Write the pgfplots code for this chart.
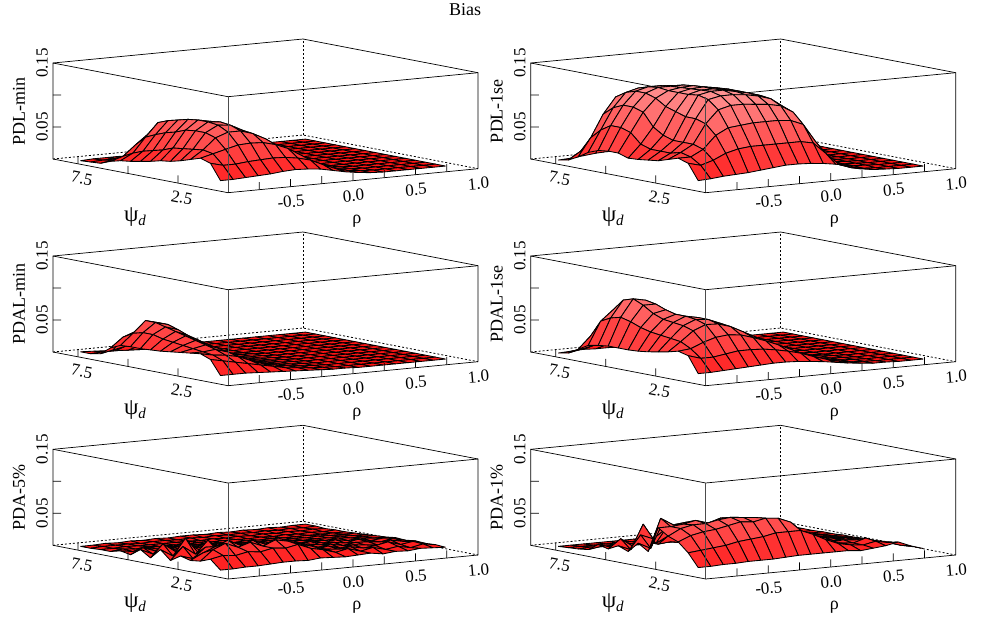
\documentclass[border=0pt]{standalone}
\usepackage{fontspec}
\setmainfont{Liberation Serif}
\usepackage{pgfplots}
\pgfplotsset{compat=1.18}
\newcommand\cc{}
\newcommand\pp{}
\newcommand\R[2]{%
 \foreach \zz [count=\i from 0] in {#2} {\expandafter\xdef\csname b\i\endcsname{\zz}}%
 \ifx\pp\empty\else
 \foreach \i [count=\j from 1] in {0,...,17} {\pgfmathsetmacro\ra{-0.9+0.1*\i}\pgfmathsetmacro\rb{-0.9+0.1*\j}%
   \xdef\cc{(\ra,\pp,\csname a\i\endcsname) (\rb,\pp,\csname a\j\endcsname) (\rb,#1,\csname b\j\endcsname) (\ra,#1,\csname b\i\endcsname) \cc}}%
 \fi
 \foreach \i in {0,...,18} {\expandafter\xdef\csname a\i\endcsname{\csname b\i\endcsname}}%
 \gdef\pp{#1}}
\newcommand\DA{%
\R{1}{.011,.011,.012,.013,.014,.016,.017,.016,.014,.01,.006,.003,.001,0,0,0,0,0,0}
\R{1.5}{.035,.03,.03,.032,.033,.034,.033,.03,.025,.016,.008,.003,.001,0,0,0,0,0,0}
\R{2}{.04,.045,.05,.055,.056,.055,.05,.042,.03,.018,.009,.003,.001,0,0,0,0,0,0}
\R{2.5}{.035,.048,.065,.072,.072,.066,.056,.042,.028,.016,.007,.002,.001,0,0,0,0,0,0}
\R{3}{.03,.046,.07,.08,.078,.068,.052,.036,.022,.012,.005,.002,0,0,0,0,0,0,0}
\R{3.5}{.026,.044,.07,.082,.08,.066,.048,.03,.017,.008,.004,.001,0,0,0,0,0,0,0}
\R{4}{.024,.042,.068,.082,.078,.062,.042,.025,.013,.006,.002,.001,0,0,0,0,0,0,0}
\R{4.5}{.02,.036,.062,.08,.074,.056,.036,.02,.01,.004,.001,0,0,0,0,0,0,0,0}
\R{5}{.017,.032,.058,.076,.07,.05,.03,.016,.008,.003,.001,0,0,0,0,0,0,0,0}
\R{5.5}{.014,.028,.052,.072,.066,.046,.026,.013,.006,.002,.001,0,0,0,0,0,0,0,0}
\R{6}{.012,.022,.045,.066,.06,.04,.022,.01,.005,.002,.001,0,0,0,0,0,0,0,0}
\R{6.5}{.008,.014,.03,.045,.04,.026,.014,.007,.003,.001,0,0,0,0,0,0,0,0,0}
\R{7}{.002,.005,.01,.014,.012,.008,.005,.002,.001,0,0,0,0,0,0,0,0,0,0}
\R{7.5}{.001,.002,.003,.003,.002,.001,0,0,0,0,0,0,0,0,0,0,0,0,0}
\R{8}{0,.001,.001,.001,0,0,0,0,0,0,0,0,0,0,0,0,0,0,0}}
\newcommand\DB{%
\R{1}{.011,.012,.014,.015,.016,.018,.02,.022,.022,.021,.019,.016,.012,.005,.002,.001,0,0,0}
\R{1.5}{.035,.03,.036,.045,.05,.052,.052,.052,.052,.052,.048,.03,.012,.004,.001,0,0,0,0}
\R{2}{.04,.04,.05,.07,.08,.082,.084,.084,.084,.082,.074,.045,.017,.005,.002,.001,0,0,0}
\R{2.5}{.035,.044,.055,.085,.105,.11,.11,.108,.106,.102,.09,.052,.02,.006,.002,.001,0,0,0}
\R{3}{.03,.04,.055,.09,.118,.122,.122,.12,.116,.11,.096,.055,.02,.006,.002,.001,0,0,0}
\R{3.5}{.028,.04,.055,.09,.122,.126,.126,.122,.118,.112,.098,.055,.02,.006,.002,.001,0,0,0}
\R{4}{.026,.04,.06,.095,.12,.125,.125,.122,.118,.112,.098,.055,.02,.006,.002,.001,0,0,0}
\R{4.5}{.025,.045,.07,.1,.12,.124,.125,.122,.118,.11,.096,.055,.02,.006,.002,.001,0,0,0}
\R{5}{.03,.06,.09,.11,.12,.123,.124,.12,.115,.106,.09,.052,.019,.006,.002,.001,0,0,0}
\R{5.5}{.03,.065,.095,.115,.122,.122,.122,.118,.11,.1,.082,.048,.017,.005,.002,.001,0,0,0}
\R{6}{.028,.065,.095,.115,.12,.12,.118,.112,.104,.09,.07,.04,.014,.004,.001,0,0,0,0}
\R{6.5}{.022,.055,.088,.11,.115,.112,.108,.1,.09,.075,.055,.03,.01,.003,.001,0,0,0,0}
\R{7}{.012,.04,.075,.1,.105,.1,.095,.085,.07,.055,.036,.018,.006,.002,0,0,0,0,0}
\R{7.5}{.004,.016,.035,.05,.055,.05,.046,.04,.03,.022,.012,.006,.002,.001,0,0,0,0,0}
\R{8}{.001,.002,.004,.006,.007,.006,.005,.004,.003,.002,.001,0,0,0,0,0,0,0,0}}
\newcommand\DC{%
\R{1}{.008,.008,.008,.007,.006,.005,.004,.003,.002,.001,.001,0,0,0,0,0,0,0,0}
\R{1.5}{.03,.026,.022,.018,.014,.01,.006,.004,.002,.001,0,0,0,0,0,0,0,0,0}
\R{2}{.036,.032,.03,.026,.018,.011,.007,.004,.002,.001,0,0,0,0,0,0,0,0,0}
\R{2.5}{.034,.034,.036,.03,.02,.012,.007,.004,.002,.001,0,0,0,0,0,0,0,0,0}
\R{3}{.032,.036,.04,.033,.022,.012,.007,.004,.002,.001,0,0,0,0,0,0,0,0,0}
\R{3.5}{.03,.038,.044,.036,.024,.013,.007,.004,.002,.001,0,0,0,0,0,0,0,0,0}
\R{4}{.028,.04,.048,.04,.026,.013,.007,.004,.002,.001,0,0,0,0,0,0,0,0,0}
\R{4.5}{.027,.042,.052,.044,.028,.014,.007,.004,.002,.001,0,0,0,0,0,0,0,0,0}
\R{5}{.026,.046,.056,.05,.03,.014,.007,.003,.002,.001,0,0,0,0,0,0,0,0,0}
\R{5.5}{.026,.046,.06,.055,.03,.013,.006,.003,.001,0,0,0,0,0,0,0,0,0,0}
\R{6}{.025,.042,.06,.055,.028,.012,.005,.003,.001,0,0,0,0,0,0,0,0,0,0}
\R{6.5}{.018,.033,.04,.032,.016,.007,.003,.002,.001,0,0,0,0,0,0,0,0,0,0}
\R{7}{.006,.01,.014,.012,.006,.003,.002,.001,0,0,0,0,0,0,0,0,0,0,0}
\R{7.5}{.003,.004,.004,.003,.002,.001,0,0,0,0,0,0,0,0,0,0,0,0,0}
\R{8}{.003,.002,.001,.001,0,0,0,0,0,0,0,0,0,0,0,0,0,0,0}}
\newcommand\DD{%
\R{1}{.011,.011,.012,.013,.014,.015,.016,.016,.015,.013,.011,.008,.005,.003,.001,.001,0,0,0}
\R{1.5}{.036,.03,.03,.033,.036,.036,.035,.032,.028,.023,.016,.01,.005,.002,.001,0,0,0,0}
\R{2}{.04,.042,.05,.056,.058,.056,.05,.043,.035,.026,.017,.01,.005,.002,.001,0,0,0,0}
\R{2.5}{.036,.05,.065,.073,.072,.066,.056,.046,.036,.026,.016,.009,.004,.002,.001,0,0,0,0}
\R{3}{.033,.052,.07,.078,.076,.068,.056,.044,.034,.024,.015,.008,.004,.002,.001,0,0,0,0}
\R{3.5}{.03,.054,.072,.08,.076,.066,.052,.04,.03,.021,.013,.007,.003,.001,0,0,0,0,0}
\R{4}{.028,.056,.074,.08,.074,.062,.048,.036,.026,.018,.011,.006,.003,.001,0,0,0,0,0}
\R{4.5}{.027,.06,.08,.084,.072,.058,.043,.032,.022,.015,.009,.005,.002,.001,0,0,0,0,0}
\R{5}{.027,.066,.09,.09,.07,.053,.038,.027,.018,.012,.007,.004,.002,.001,0,0,0,0,0}
\R{5.5}{.027,.07,.097,.093,.068,.048,.033,.022,.015,.01,.006,.003,.001,0,0,0,0,0,0}
\R{6}{.025,.066,.092,.086,.06,.04,.027,.018,.012,.008,.004,.002,.001,0,0,0,0,0,0}
\R{6.5}{.022,.058,.074,.066,.045,.03,.02,.013,.008,.005,.003,.001,0,0,0,0,0,0,0}
\R{7}{.013,.032,.045,.038,.026,.016,.011,.007,.004,.003,.001,0,0,0,0,0,0,0,0}
\R{7.5}{.004,.008,.012,.011,.008,.005,.003,.002,.001,0,0,0,0,0,0,0,0,0,0}
\R{8}{.001,.002,.003,.002,.002,.001,0,0,0,0,0,0,0,0,0,0,0,0,0}}
\newcommand\DE{%
\R{1}{.006,.006,.007,.007,.008,.009,.009,.008,.01,.009,.008,.009,.01,.007,.009,.008,.01,.009,.008}
\R{1.5}{.02,.024,.022,.026,.024,.028,.026,.03,.022,.018,.012,.016,.01,.014,.009,.012,.008,.012,.009}
\R{2}{.014,.03,.038,.03,.036,.028,.036,.032,.026,.02,.014,.012,.014,.01,.012,.016,.01,.013,.008}
\R{2.5}{.012,.022,.03,.038,.028,.034,.026,.034,.018,.016,.01,.014,.009,.012,.01,.008,.014,.01,.009}
\R{3}{.016,.01,.026,.018,.03,.02,.028,.016,.02,.012,.014,.009,.012,.008,.011,.01,.008,.012,.007}
\R{3.5}{.006,.026,.012,.032,.014,.024,.012,.02,.01,.014,.008,.011,.008,.01,.007,.011,.007,.009,.008}
\R{4}{.02,.008,.034,.01,.024,.01,.018,.009,.014,.007,.01,.007,.01,.006,.009,.006,.008,.006,.006}
\R{4.5}{.004,.024,.01,.02,.008,.016,.007,.012,.006,.009,.006,.008,.005,.007,.005,.007,.005,.006,.005}
\R{5}{.014,.005,.016,.006,.012,.006,.01,.005,.008,.005,.007,.004,.006,.004,.005,.004,.005,.004,.004}
\R{5.5}{.003,.012,.005,.01,.004,.008,.004,.007,.004,.005,.003,.005,.003,.004,.003,.004,.003,.003,.003}
\R{6}{.006,.003,.008,.003,.006,.003,.005,.003,.004,.002,.003,.002,.003,.002,.002,.002,.002,.002,.002}
\R{6.5}{.002,.004,.002,.004,.002,.003,.002,.003,.002,.002,.002,.001,.002,.001,.002,.001,.002,.001,.002}
\R{7}{.002,.002,.003,.002,.002,.002,.002,.002,.001,.002,.001,.002,.001,.002,.001,.002,.001,.002,.001}
\R{7.5}{.001,.002,.002,.002,.001,.002,.002,.001,.002,.001,.002,.001,.002,.001,.002,.001,.002,.001,.002}
\R{8}{.001,.001,.002,.001,.002,.001,.002,.001,.002,.002,.001,.002,.001,.002,.001,.002,.001,.002,.002}}
\newcommand\DF{%
\R{1}{.01,.01,.011,.011,.012,.012,.012,.013,.014,.014,.014,.014,.014,.012,.014,.016,.02,.012,.006}
\R{1.5}{.03,.032,.034,.036,.04,.042,.044,.048,.048,.048,.04,.03,.022,.018,.016,.02,.016,.01,.006}
\R{2}{.044,.052,.056,.058,.062,.066,.064,.068,.066,.058,.04,.03,.022,.018,.016,.022,.014,.012,.005}
\R{2.5}{.05,.06,.064,.064,.068,.07,.068,.066,.058,.044,.034,.026,.02,.016,.018,.016,.014,.009,.005}
\R{3}{.06,.06,.062,.066,.06,.066,.058,.05,.042,.034,.026,.02,.016,.018,.014,.016,.012,.008,.005}
\R{3.5}{.02,.07,.058,.06,.056,.05,.042,.036,.03,.024,.02,.016,.018,.014,.016,.012,.01,.007,.004}
\R{4}{.03,.02,.06,.05,.044,.036,.03,.026,.022,.018,.016,.014,.012,.012,.01,.01,.008,.006,.004}
\R{4.5}{.014,.038,.03,.044,.026,.03,.022,.02,.016,.014,.012,.012,.01,.01,.009,.008,.007,.005,.003}
\R{5}{.02,.012,.05,.018,.028,.016,.02,.014,.012,.012,.01,.009,.009,.008,.007,.007,.005,.004,.003}
\R{5.5}{.012,.026,.012,.022,.012,.014,.01,.011,.009,.008,.008,.007,.006,.006,.005,.005,.004,.003,.002}
\R{6}{.016,.01,.016,.01,.012,.009,.009,.007,.007,.006,.005,.005,.004,.004,.004,.003,.003,.002,.002}
\R{6.5}{.005,.008,.006,.008,.005,.006,.005,.005,.004,.004,.003,.003,.003,.002,.002,.002,.002,.001,.001}
\R{7}{.003,.004,.003,.004,.003,.003,.003,.002,.002,.002,.002,.002,.001,.001,.001,.001,.001,.001,.001}
\R{7.5}{.002,.002,.002,.002,.002,.002,.002,.002,.001,.001,.001,.001,.001,.001,.001,.001,.001,.001,.001}
\R{8}{.001,.001,.001,.001,.001,.001,.001,.001,.001,.001,.001,.001,.001,.001,.001,.001,.001,.001,.001}}
\pgfplotsset{panel/.style={
  x={(125pt,12pt)}, y={(-20pt,3.85pt)}, z={(0pt,640pt)},
  xmin=-1,xmax=1,ymin=0,ymax=8.75,zmin=0,zmax=.15,
  clip=false, axis line style={draw=none}, major tick length=0pt, minor tick length=0pt,
  xtick={-0.5,0,0.5,1}, xticklabels={-0.5,0.0,0.5,1.0},
  ytick={2.5,7.5}, yticklabels={2.5,7.5},
  ztick={0.05,0.15}, zticklabels={0.05,0.15},
  tick label style={font=\fontsize{17}{17}\selectfont, inner sep=0pt},
  x tick label style={yshift=-9pt, rotate=5, anchor=north},
  y tick label style={xshift=5pt, yshift=-9pt, rotate=-11, anchor=north},
  z tick label style={xshift=-5pt, rotate=90, anchor=south},
  every axis x label/.style={at={(axis cs:0.03,0,0)}, font=\fontsize{18}{18}\selectfont, anchor=center, yshift=-41pt},
  every axis y label/.style={at={(axis cs:-1,4.65,0)}, font=\fontsize{18}{18}\selectfont, anchor=center, yshift=-42pt},
  every axis z label/.style={at={(axis cs:-1,8.75,0.075)}, font=\fontsize{18}{18}\selectfont, xshift=-34pt, rotate=90, anchor=center},
  xlabel={ρ}, ylabel={{\fontsize{23}{23}\selectfont ψ}\raisebox{-4pt}{\fontsize{15}{15}\selectfont\itshape d}},
  colormap={bias}{rgb255(0cm)=(255,20,20); rgb255(1cm)=(255,150,150)},
  point meta min=0, point meta max=.13,
},
 bx/.style={black, line width=.7pt, solid, forget plot, no markers},
 dx/.style={black, line width=.8pt, dash pattern=on 2pt off 2pt, forget plot, no markers},
 sf/.style={patch, patch type=rectangle, shader=faceted, faceted color=black, line width=.85pt, z buffer=none, point meta=z}}
\newcommand\panel[4]{%
\gdef\cc{}\gdef\pp{}#4%
\begin{axis}[panel, at={(#1pt,#2pt)}, anchor=origin, zlabel={#3}]
\addplot3[dx] coordinates {(-1,8.75,0) (1,8.75,0) (1,0,0)};
\addplot3[dx] coordinates {(1,8.75,0) (1,8.75,.15)};
\addplot3[bx] coordinates {(-1,8.75,0) (-1,8.75,.15) (1,8.75,.15) (1,0,.15) (1,0,0)};
\addplot3[bx] coordinates {(-1,8.75,.15) (-1,0,.15) (1,0,.15)};
\edef\tmp{\noexpand\addplot3[sf] coordinates {\cc};}\tmp
\addplot3[bx, black!70] coordinates {(-1,0,.15) (-1,0,0)};
\addplot3[bx] coordinates {(-1,8.75,0) (-1,0,0) (1,0,0)};
\addplot3[bx, unbounded coords=jump] coordinates {
 (-.75,0,0) (-.75,0,.012) (-.75,0,nan) (-.5,0,0) (-.5,0,.012) (-.5,0,nan)
 (-.25,0,0) (-.25,0,.012) (-.25,0,nan) (0,0,0) (0,0,.012) (0,0,nan)
 (.25,0,0) (.25,0,.012) (.25,0,nan) (.5,0,0) (.5,0,.012) (.5,0,nan)
 (.75,0,0) (.75,0,.012) (.75,0,nan)
 (-1,2.5,0) (-1,2.5,.012) (-1,2.5,nan) (-1,5,0) (-1,5,.012) (-1,5,nan)
 (-1,7.5,0) (-1,7.5,.012) (-1,7.5,nan)
 (-1,8.75,.05) (-.956,8.613,.05) (-1,8.75,nan)
 (-1,8.75,.1) (-.956,8.613,.1)};
\end{axis}}
\begin{document}
\begin{tikzpicture}[x=1pt,y=1pt]
\path[use as bounding box] (0,0) rectangle (997,619);
\node[font=\fontsize{18}{18}\selectfont] at (465,609) {Bias};
\panel{353}{438.3}{PDL-min}{\DA}
\panel{830.7}{438.3}{PDL-1se}{\DB}
\panel{353}{245.3}{PDAL-min}{\DC}
\panel{830.7}{245.3}{PDAL-1se}{\DD}
\panel{353}{52}{PDA-5\%}{\DE}
\panel{830.7}{52}{PDA-1\%}{\DF}
\end{tikzpicture}
\end{document}
